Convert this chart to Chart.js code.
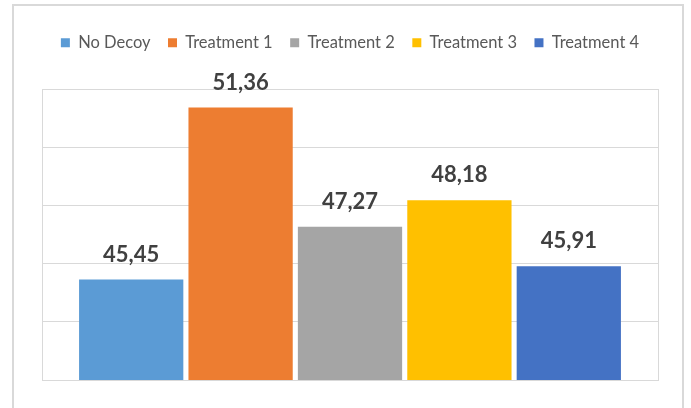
<!DOCTYPE html>
<html>
<head>
<meta charset="utf-8">
<script src="https://cdn.jsdelivr.net/npm/chart.js@4.4.1/dist/chart.umd.min.js"></script>
<style>
  html, body { margin: 0; padding: 0; background: #fff; overflow: hidden; }
  #wrap { position: relative; width: 691px; height: 408px; }
  #frame { position: absolute; left: 12px; top: 4px; width: 672px; height: 420px; border: 2px solid #d9d9d9; box-sizing: border-box; }
  canvas { position: absolute; left: 0; top: 0; }
</style>
</head>
<body>
<div id="wrap">
  <div id="frame"></div>
  <canvas id="chart" width="691" height="408"></canvas>
</div>
<script>
// series names and their averages
const seriesNames = ['No Decoy', 'Treatment 1', 'Treatment 2', 'Treatment 3', 'Treatment 4'];
const seriesValues = [45.45, 51.36, 47.27, 48.18, 45.91];
const seriesColors = ['#5B9BD5', '#ED7D31', '#A5A5A5', '#FFC000', '#4472C4'];
const yMin = 42;
const yMax = 52;
const yStep = 2;

// leave room under the legend
const legendGap = {
    id: 'legendGap',
    beforeInit(chart) {
        const fit = chart.legend.fit;
        chart.legend.fit = function () {
            fit.call(this);
            this.height += 28;
        };
    }
};

// value labels above each bar, comma decimals
const valueLabels = {
    id: 'valueLabels',
    afterDatasetsDraw(chart) {
        const ctx = chart.ctx;
        ctx.save();
        ctx.font = 'bold 22px Lato';
        ctx.fillStyle = '#404040';
        ctx.textAlign = 'center';
        ctx.textBaseline = 'alphabetic';
        chart.data.datasets.forEach((ds, i) => {
            const bar = chart.getDatasetMeta(i).data[0];
            const txt = ds.data[0].toFixed(2).replace('.', ',');
            ctx.fillText(txt, bar.x, bar.y - 18);
        });
        ctx.restore();
    }
};

const ctx = document.getElementById('chart').getContext('2d');
new Chart(ctx, {
    type: 'bar',
    data: {
        labels: [''],
        datasets: seriesNames.map((name, i) => ({
            label: name,
            data: [seriesValues[i]],
            backgroundColor: seriesColors[i],
            categoryPercentage: 0.888,
            barPercentage: 0.953
        }))
    },
    options: {
        responsive: false,
        animation: false,
        layout: { padding: { left: 42, right: 33, bottom: 28, top: 17 } },
        plugins: {
            legend: {
                position: 'top',
                labels: {
                    boxWidth: 9,
                    boxHeight: 9,
                    padding: 17.5,
                    color: '#595959',
                    font: { family: 'Lato', size: 16.5 }
                }
            },
            tooltip: { enabled: false }
        },
        scales: {
            x: {
                ticks: { display: false },
                grid: { color: '#d9d9d9', drawTicks: false },
                border: { color: '#d9d9d9' }
            },
            y: {
                min: yMin,
                max: yMax,
                ticks: { display: false, stepSize: yStep },
                grid: { color: '#d9d9d9', drawTicks: false },
                border: { display: false }
            }
        }
    },
    plugins: [legendGap, valueLabels]
});
</script>
</body>
</html>
